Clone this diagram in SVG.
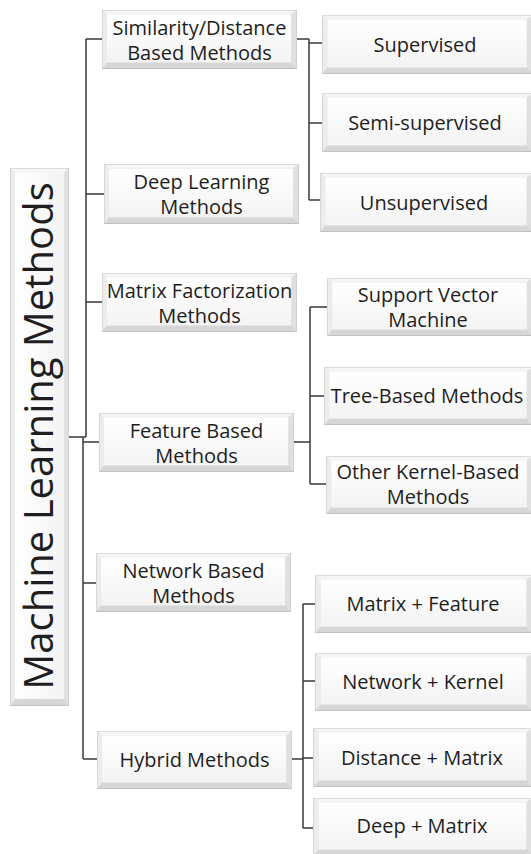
<svg xmlns="http://www.w3.org/2000/svg" xmlns:xlink="http://www.w3.org/1999/xlink" width="531" height="854" viewBox="0 0 531 854">
<style>
.t{font-family:"Open Sans","Liberation Sans",sans-serif;font-size:20px;fill:#1e1e1e;text-anchor:middle}
.root{font-family:"Open Sans","Liberation Sans",sans-serif;font-size:40px;fill:#1e1e1e;text-anchor:middle}
.c{fill:none;stroke:#3a3a3a;stroke-width:1.5}
</style>
<defs>
<linearGradient id="gin" x1="0" y1="0" x2="0" y2="1">
<stop offset="0" stop-color="#ffffff"/>
<stop offset="1" stop-color="#f3f3f3"/>
</linearGradient>
<linearGradient id="ginh" x1="0" y1="0" x2="1" y2="0">
<stop offset="0" stop-color="#ffffff"/>
<stop offset="1" stop-color="#f3f3f3"/>
</linearGradient>
<symbol id="bevel" viewBox="0 0 200 59" preserveAspectRatio="none">
<rect x="0.5" y="0.5" width="199" height="58" fill="#d6d6d6" stroke="#c2c2c2" stroke-width="1" vector-effect="non-scaling-stroke"/>
<polygon points="0.5,0.5 199.5,0.5 194,4.5 5,4.5" fill="#f5f5f5"/>
<polygon points="0.5,0.5 5,4.5 5,52.5 0.5,58.5" fill="#ececec"/>
<polygon points="199.5,0.5 199.5,58.5 194,52.5 194,4.5" fill="#e0e0e0"/>
<rect x="5" y="4.5" width="189" height="48" fill="url(#gin)"/>
</symbol>
</defs>

<g id="connectors">
<path class="c" d="M86,39 V437 M86,39 H102 M86,194 H104 M86,302 H102 M69,437 H86"/>
<path class="c" d="M83,437 V759 M83,442 H99 M83,583 H96 M83,759 H97"/>
<path class="c" d="M297,39 H309 M309,39 V200 M309,43 H322 M309,123 H322 M309,200 H320"/>
<path class="c" d="M294,442 H310 M310,307 V484 M310,307 H327 M310,396 H324 M310,484 H326"/>
<path class="c" d="M292,759 H303 M303,604 V828 M303,604 H315 M303,681 H315 M303,758 H313 M303,828 H313"/>
</g>

<g id="root">
<rect x="10.5" y="168.5" width="58" height="537" fill="#d6d6d6" stroke="#c2c2c2"/>
<polygon points="10.5,168.5 68.5,168.5 64,173 15,173" fill="#f5f5f5"/>
<polygon points="10.5,168.5 15,173 15,699 10.5,705.5" fill="#ececec"/>
<polygon points="68.5,168.5 68.5,705.5 64,699 64,173" fill="#e0e0e0"/>
<rect x="15" y="173" width="49" height="526" fill="url(#ginh)"/>
<text class="root" transform="translate(53,436) rotate(-90)">Machine Learning Methods</text>
</g>

<g id="similarity">
<use xlink:href="#bevel" x="102" y="10" width="195" height="59"/>
<text class="t" x="199.5" y="34.5">Similarity/Distance</text>
<text class="t" x="199.5" y="59.5">Based Methods</text>
</g>
<g id="deep">
<use xlink:href="#bevel" x="104" y="164" width="195" height="60"/>
<text class="t" x="201.5" y="189">Deep Learning</text>
<text class="t" x="201.5" y="214">Methods</text>
</g>
<g id="matrix">
<use xlink:href="#bevel" x="102" y="273" width="195" height="59"/>
<text class="t" x="199.5" y="297.5">Matrix Factorization</text>
<text class="t" x="199.5" y="322.5">Methods</text>
</g>
<g id="feature">
<use xlink:href="#bevel" x="99" y="413" width="195" height="59"/>
<text class="t" x="196.5" y="437.5">Feature Based</text>
<text class="t" x="196.5" y="462.5">Methods</text>
</g>
<g id="network">
<use xlink:href="#bevel" x="96" y="553" width="195" height="59"/>
<text class="t" x="193.5" y="577.5">Network Based</text>
<text class="t" x="193.5" y="602.5">Methods</text>
</g>
<g id="hybrid">
<use xlink:href="#bevel" x="97" y="731" width="195" height="58"/>
<text class="t" x="194.5" y="767">Hybrid Methods</text>
</g>

<g id="supervised">
<use xlink:href="#bevel" x="322" y="15" width="211" height="59"/>
<text class="t" x="425" y="52">Supervised</text>
</g>
<g id="semi">
<use xlink:href="#bevel" x="322" y="93" width="211" height="59"/>
<text class="t" x="425" y="130">Semi-supervised</text>
</g>
<g id="unsupervised">
<use xlink:href="#bevel" x="320" y="173" width="213" height="59"/>
<text class="t" x="424" y="210">Unsupervised</text>
</g>

<g id="svm">
<use xlink:href="#bevel" x="327" y="278" width="206" height="58"/>
<text class="t" x="428" y="302">Support Vector</text>
<text class="t" x="428" y="327">Machine</text>
</g>
<g id="tree">
<use xlink:href="#bevel" x="324" y="367" width="209" height="58"/>
<text class="t" x="427" y="403">Tree-Based Methods</text>
</g>
<g id="kernel">
<use xlink:href="#bevel" x="326" y="456" width="207" height="58"/>
<text class="t" x="428" y="479">Other Kernel-Based</text>
<text class="t" x="428" y="504">Methods</text>
</g>

<g id="matrix-feature">
<use xlink:href="#bevel" x="315" y="575" width="218" height="58"/>
<text class="t" x="423" y="611">Matrix + Feature</text>
</g>
<g id="network-kernel">
<use xlink:href="#bevel" x="315" y="653" width="218" height="58"/>
<text class="t" x="423" y="689">Network + Kernel</text>
</g>
<g id="distance-matrix">
<use xlink:href="#bevel" x="313" y="728" width="220" height="59"/>
<text class="t" x="422" y="765">Distance + Matrix</text>
</g>
<g id="deep-matrix">
<use xlink:href="#bevel" x="313" y="798" width="220" height="58"/>
<text class="t" x="422" y="833">Deep + Matrix</text>
</g>
</svg>
